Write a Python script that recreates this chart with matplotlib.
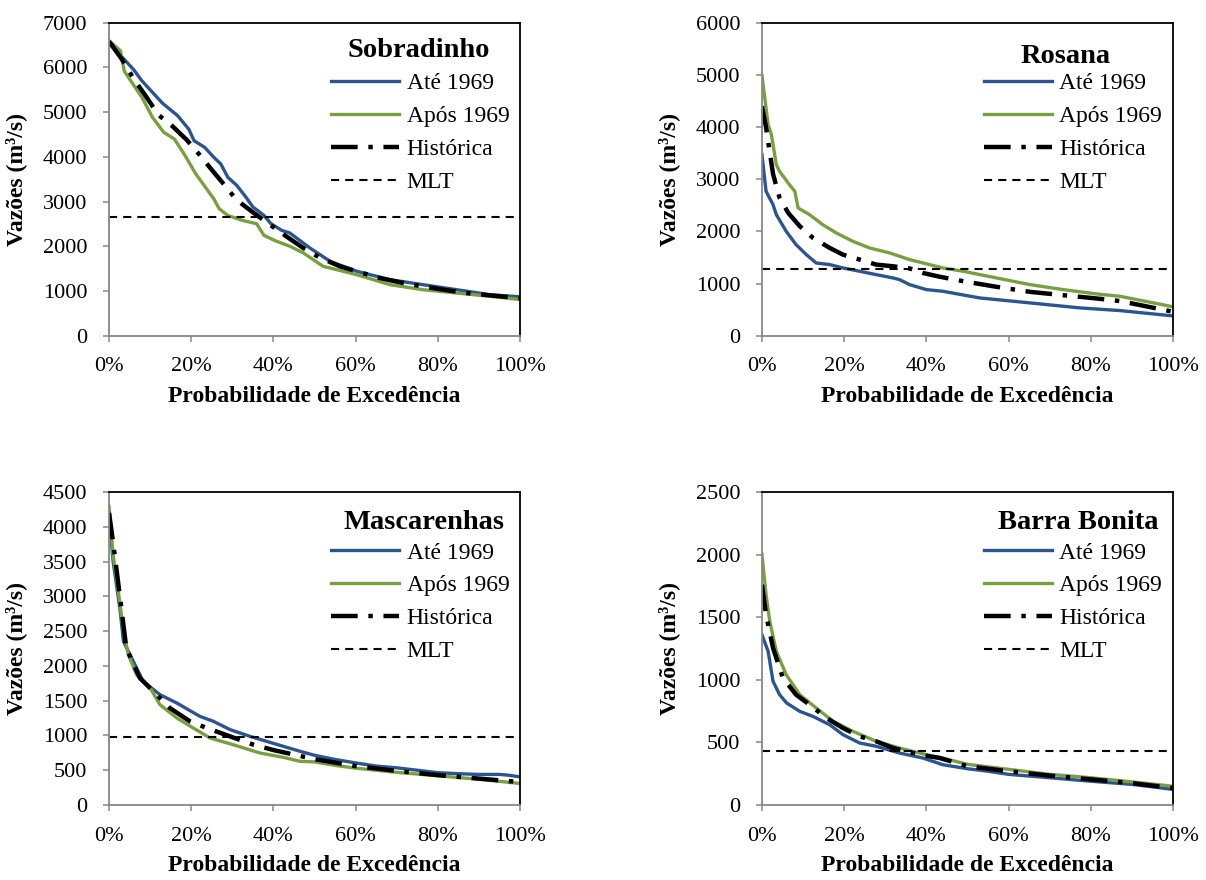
import numpy as np
import matplotlib.pyplot as plt
from matplotlib.ticker import PercentFormatter, MultipleLocator

plt.rcParams['font.family'] = ['Liberation Serif', 'DejaVu Serif']

# ---- data (x = probabilidade de excedência in %) ----
# Sobradinho
sob_ate_x = [0, 2, 4, 6, 8, 10, 13, 16.7, 19.4, 20.7, 23.3, 25.5, 27.2, 28.9, 31.1, 33.3, 35, 37.7,
             39.4, 42, 44, 48.9, 53.8, 60.3, 68.4, 76.4, 84.6, 92.7, 100]
sob_ate_y = [6550, 6350, 6150, 5950, 5700, 5500, 5200, 4920, 4620, 4360, 4210, 3990, 3840, 3545, 3360,
             3100, 2880, 2690, 2505, 2357, 2297, 1961, 1663, 1440, 1253, 1141, 1029, 917, 870]
sob_apos_x = [0, 2.8, 3.7, 5, 8, 10.6, 13.3, 15.9, 18.5, 21.1, 23.7, 25.5, 26.8, 28.9, 32.4, 35.9,
              37.7, 40.3, 44, 47.3, 52.1, 60.3, 68.4, 76.4, 84.6, 92.7, 100]
sob_apos_y = [6600, 6370, 5920, 5740, 5330, 4880, 4550, 4400, 4030, 3620, 3290, 3060, 2840, 2690, 2580,
              2505, 2245, 2130, 2000, 1850, 1552, 1364, 1141, 1029, 955, 881, 810]
sob_hist_x = [0, 3, 5.9, 9, 12, 15.5, 18.9, 22, 25, 28, 31, 35, 39.2, 43, 47.3, 51, 56.2, 61, 65.9,
              71, 76.4, 82, 87, 93, 100]
sob_hist_y = [6580, 6200, 5760, 5350, 4940, 4680, 4380, 4050, 3710, 3380, 3040, 2760, 2480, 2230, 1960,
              1760, 1550, 1420, 1290, 1190, 1100, 1020, 955, 900, 840]

# Rosana
ros_ate_x = [0, 1, 2.7, 3.5, 5.9, 8.3, 10.8, 13.2, 16.5, 19.7, 23.8, 27.8, 31.9, 33.5, 35.9, 40, 44,
             53, 65.2, 77.4, 87.1, 100]
ros_ate_y = [3470, 2768, 2512, 2321, 2001, 1746, 1554, 1394, 1363, 1299, 1235, 1171, 1107, 1075, 980,
             884, 852, 724, 629, 533, 482, 380]
ros_apos_x = [0, 1.5, 2.3, 3.5, 4.3, 6.7, 8, 8.8, 11.6, 14.8, 18.1, 22.1, 26.2, 31.1, 35.9, 40.8, 44,
              49, 57.1, 65.2, 73.3, 81.4, 87.1, 100]
ros_apos_y = [4990, 4045, 3852, 3278, 3150, 2894, 2767, 2448, 2320, 2128, 1969, 1810, 1682, 1586, 1459,
              1363, 1299, 1235, 1107, 980, 884, 801, 756, 555]
ros_hist_x = [0, 1, 2.7, 4.3, 6.4, 9.2, 12.4, 16.5, 19.7, 23.8, 27.8, 31.9, 35.9, 39.1, 43.3, 49.8,
              57.1, 65.2, 73.3, 81.4, 87.1, 100]
ros_hist_y = [4400, 3990, 3099, 2640, 2354, 2099, 1876, 1682, 1554, 1459, 1363, 1331, 1290, 1204, 1130,
              1033, 937, 841, 777, 714, 665, 460]

# Mascarenhas
mas_ate_x = [0, 1, 2.7, 3.5, 5.9, 8.3, 12.4, 16.5, 22.1, 25.4, 29.5, 34.3, 42.4, 46.5, 50, 55, 60, 65,
             70, 75, 80, 85, 90, 95, 97, 100]
mas_ate_y = [4150, 3500, 2800, 2354, 2066, 1778, 1586, 1466, 1275, 1203, 1083, 987, 844, 772, 715, 655,
             605, 560, 535, 500, 465, 450, 440, 440, 430, 405]
mas_apos_x = [0, 1, 1.9, 2.7, 3.5, 4.7, 6.7, 10, 12.4, 16.5, 20.5, 24.6, 30.2, 36.7, 42.4, 46.5, 50,
              55, 60, 70, 80, 90, 100]
mas_apos_y = [4294, 3598, 3216, 2880, 2497, 2161, 1873, 1682, 1442, 1251, 1107, 963, 867, 748, 686,
              628, 620, 570, 530, 470, 420, 370, 310]
mas_hist_x = [0, 1, 2.7, 4.2, 7.5, 11.6, 14.8, 19.7, 23.8, 30, 35, 40, 50, 60, 70, 80, 90, 100]
mas_hist_y = [4200, 3770, 2976, 2257, 1826, 1586, 1394, 1203, 1107, 975, 870, 790, 660, 560, 490, 430,
              380, 330]

# Barra Bonita
bar_ate_x = [0, 1.5, 2.7, 4.3, 6, 9.2, 12.4, 16.5, 19.7, 23.8, 27.8, 33.5, 39.2, 44, 50, 55, 60, 70,
             80, 90, 100]
bar_ate_y = [1360, 1228, 988, 881, 815, 748, 708, 641, 562, 495, 469, 415, 375, 322, 290, 270, 245, 218,
             190, 165, 125]
bar_apos_x = [0, 1, 1.9, 3.5, 5.9, 9.2, 13.2, 17.3, 22.1, 27.8, 33.5, 40, 44, 50, 60, 70, 80, 90, 100]
bar_apos_y = [2000, 1680, 1467, 1228, 1041, 881, 775, 669, 589, 509, 455, 402, 375, 325, 285, 245, 218,
              185, 150]
bar_hist_x = [0, 1, 2.7, 5.1, 8.3, 11.6, 15.7, 19.7, 23.8, 27.8, 31.9, 38.4, 43.3, 50, 60, 70, 80, 90,
              100]
bar_hist_y = [1760, 1521, 1254, 1015, 881, 801, 695, 615, 548, 509, 455, 402, 375, 310, 270, 235, 205,
              175, 135]

stations = ['Sobradinho', 'Rosana', 'Mascarenhas', 'Barra Bonita']
mlt = [2660, 1280, 975, 435]
y_max = [7000, 6000, 4500, 2500]
y_step = [1000, 1000, 500, 500]
series = [
    (sob_ate_x, sob_ate_y, sob_apos_x, sob_apos_y, sob_hist_x, sob_hist_y),
    (ros_ate_x, ros_ate_y, ros_apos_x, ros_apos_y, ros_hist_x, ros_hist_y),
    (mas_ate_x, mas_ate_y, mas_apos_x, mas_apos_y, mas_hist_x, mas_hist_y),
    (bar_ate_x, bar_ate_y, bar_apos_x, bar_apos_y, bar_hist_x, bar_hist_y),
]

# layout
rects = [
    [0.0904, 0.6185, 0.3408, 0.3557],
    [0.6318, 0.6185, 0.3408, 0.3557],
    [0.0904, 0.0852, 0.3408, 0.3557],
    [0.6318, 0.0852, 0.3408, 0.3557],
]
title_pos = [(0.754, 0.912), (0.740, 0.893), (0.766, 0.902), (0.769, 0.902)]

blue = '#2B5592'
green = '#79A03E'
grey = '#878787'

fig = plt.figure(figsize=(12.06, 8.80), dpi=100)

for i, name in enumerate(stations):
    ax = fig.add_axes(rects[i])
    ax_x, ax_y, ap_x, ap_y, h_x, h_y = series[i]
    ax.plot(np.array(ax_x) / 100, ax_y, color=blue, lw=2.4, label='Até 1969')
    ax.plot(np.array(ap_x) / 100, ap_y, color=green, lw=2.4, label='Após 1969')
    ax.plot(np.array(h_x) / 100, h_y, color='black', lw=3.2, dashes=(6, 2.4, 1, 2.4),
            label='Histórica')
    ax.axhline(mlt[i], color='black', lw=1.5, dashes=(3.9, 2.9), label='MLT')

    ax.set_xlim(0, 1)
    ax.set_ylim(0, y_max[i])
    ax.xaxis.set_major_locator(MultipleLocator(0.2))
    ax.xaxis.set_major_formatter(PercentFormatter(xmax=1, decimals=0))
    ax.yaxis.set_major_locator(MultipleLocator(y_step[i]))

    for s in ['left', 'bottom']:
        ax.spines[s].set_color(grey)
        ax.spines[s].set_linewidth(1.3)
    for s in ['top', 'right']:
        ax.spines[s].set_color('black')
        ax.spines[s].set_linewidth(1.3)
    ax.tick_params(axis='both', direction='out', length=4.5, width=1.1, color=grey, labelsize=16)
    ax.tick_params(axis='y', pad=11)
    ax.tick_params(axis='x', pad=11)

    ax.set_xlabel('Probabilidade de Excedência', fontsize=17, fontweight='bold', labelpad=7)
    ax.set_ylabel('Vazões (m³/s)', fontsize=17, fontweight='bold')
    ax.yaxis.set_label_coords(-0.20, 0.5)

    ax.text(title_pos[i][0], title_pos[i][1], name, transform=ax.transAxes, ha='center',
            va='center', fontsize=20.5, fontweight='bold')
    ax.legend(loc='upper left', bbox_to_anchor=(0.54, 0.84), frameon=False, fontsize=17,
              handlelength=2.9, handletextpad=0.3, labelspacing=0.48, borderpad=0,
              borderaxespad=0)

fig.savefig('out.png', dpi=100)
